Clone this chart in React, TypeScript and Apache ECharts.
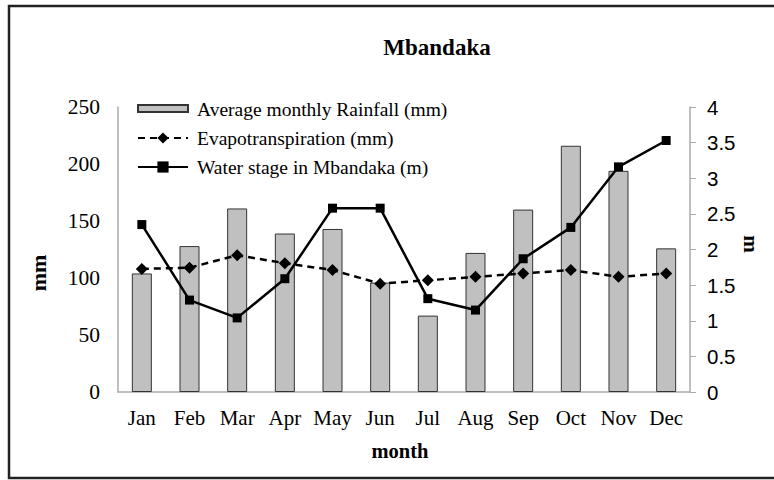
import React, { useEffect, useRef } from "react";
import * as echarts from "echarts";

const months = ["Jan", "Feb", "Mar", "Apr", "May", "Jun", "Jul", "Aug", "Sep", "Oct", "Nov", "Dec"];
const rainfall = [104, 128, 161, 139, 143, 96, 67, 122, 160, 216, 194, 126];
const evapo = [108, 109, 120, 113, 107, 95, 98, 101, 104, 107, 101, 104];
const waterStage = [2.35, 1.29, 1.04, 1.59, 2.58, 2.58, 1.31, 1.15, 1.87, 2.31, 3.16, 3.53];

const serif = "'Liberation Serif', 'Times New Roman', serif";
const sans = "'Liberation Sans', Arial, sans-serif";

export default function App() {
  const ref = useRef<HTMLDivElement>(null);
  useEffect(() => {
    document.body.style.margin = "0";
    const chart = echarts.init(ref.current!, null, { renderer: "svg" });
    chart.setOption({
      animation: false,
      backgroundColor: "#fff",
      grid: { left: 118, right: 84, top: 107, bottom: 88 },
      legend: {
        orient: "vertical",
        left: 132,
        top: 94,
        itemWidth: 50,
        itemHeight: 14,
        itemGap: 9,
        textStyle: { fontFamily: serif, fontSize: 19.5, color: "#000", padding: [0, 0, 0, 4] },
        data: [
          { name: "Average monthly Rainfall (mm)", icon: "path://M0,0 M0,3 L50,3 L50,10 L0,10 Z M50,14" },
          { name: "Evapotranspiration (mm)" },
          { name: "Water stage in Mbandaka (m)" },
        ],
      },
      xAxis: {
        type: "category",
        data: months,
        boundaryGap: true,
        axisLine: { lineStyle: { color: "#aaa", width: 1.5 } },
        axisTick: { show: false },
        axisLabel: {
          interval: 0,
          hideOverlap: false,
          fontFamily: serif,
          fontSize: 21,
          color: "#000",
          margin: 15,
        },
      },
      yAxis: [
        {
          type: "value",
          min: 0,
          max: 250,
          interval: 50,
          axisLine: { show: true, lineStyle: { color: "#aaa", width: 1.5 } },
          axisTick: { show: false },
          splitLine: { show: false },
          axisLabel: { fontFamily: serif, fontSize: 21.5, color: "#000", margin: 18 },
        },
        {
          type: "value",
          min: 0,
          max: 4,
          interval: 0.5,
          position: "right",
          axisLine: { show: true, lineStyle: { color: "#aaa", width: 1.5 } },
          axisTick: { show: true, length: 6, lineStyle: { color: "#aaa" } },
          splitLine: { show: false },
          axisLabel: { fontFamily: sans, fontSize: 20.5, color: "#000", margin: 17 },
        },
      ],
      series: [
        {
          name: "Average monthly Rainfall (mm)",
          type: "bar",
          data: rainfall,
          barWidth: 20,
          itemStyle: { color: "#c0c0c0", borderColor: "#333", borderWidth: 1 },
        },
        {
          name: "Evapotranspiration (mm)",
          type: "line",
          data: evapo,
          symbol: "diamond",
          symbolSize: 12,
          lineStyle: { color: "#000", width: 2.5, type: [7, 5] },
          itemStyle: { color: "#000" },
        },
        {
          name: "Water stage in Mbandaka (m)",
          type: "line",
          yAxisIndex: 1,
          data: waterStage,
          symbol: "rect",
          symbolSize: 9,
          lineStyle: { color: "#000", width: 2.5 },
          itemStyle: { color: "#000" },
        },
      ],
      graphic: [
        {
          type: "rect",
          shape: { x: 9, y: 6, width: 772, height: 472 },
          style: { fill: "none", stroke: "#222", lineWidth: 2.5 },
          silent: true,
        },
        {
          type: "text",
          x: 437,
          y: 47,
          style: { text: "Mbandaka", font: `bold 23px ${serif}`, fill: "#000", textAlign: "center", textVerticalAlign: "middle" },
        },
        {
          type: "text",
          x: 400,
          y: 451,
          style: { text: "month", font: `bold 20.5px ${serif}`, fill: "#000", textAlign: "center", textVerticalAlign: "middle" },
        },
        {
          type: "text",
          x: 38,
          y: 273,
          rotation: Math.PI / 2,
          style: { text: "mm", font: `bold 22px ${serif}`, fill: "#000", textAlign: "center", textVerticalAlign: "middle" },
        },
        {
          type: "text",
          x: 751,
          y: 244,
          rotation: -Math.PI / 2,
          style: { text: "m", font: `bold 21px ${serif}`, fill: "#000", textAlign: "center", textVerticalAlign: "middle" },
        },
      ],
    });
    return () => chart.dispose();
  }, []);
  return <div ref={ref} style={{ width: 774, height: 480 }} />;
}
